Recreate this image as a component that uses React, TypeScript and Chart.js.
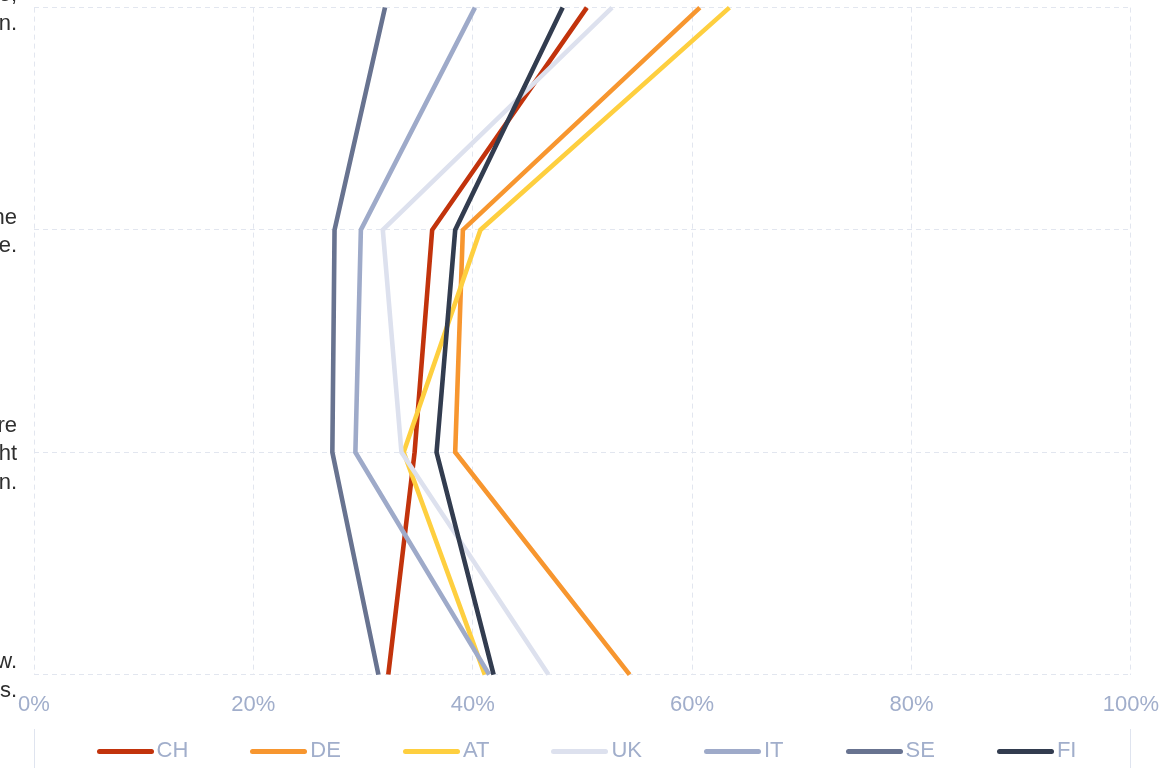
import { useEffect, useRef } from "react";
import { Chart, registerables } from "chart.js";

Chart.register(...registerables);

// Category labels (multi-line statements)
const categories: string[][] = [
  ["If I could afford it, I would invest more money in the future,", "especially in products that support climate protection."],
  ["I feel well informed about the", "consequences of climate change."],
  ["Politicians should do much more", "for climate protection, even if it might", "limit my personal consumption."],
  ["I already do enough for the climate now.", "I don't need to change my habits."],
];

const seriesNames = ["CH", "DE", "AT", "UK", "IT", "SE", "FI"];
const seriesColors = ["#c2330c", "#f7962f", "#fecf3f", "#dde1ee", "#9eaac9", "#687390", "#323c4f"];

const chValues = [50.4, 36.3, 34.7, 32.3];
const deValues = [60.7, 39.1, 38.4, 54.3];
const atValues = [63.4, 40.7, 33.7, 41.1];
const ukValues = [52.7, 31.8, 33.5, 46.9];
const itValues = [40.2, 29.8, 29.3, 41.5];
const seValues = [32.0, 27.4, 27.2, 31.4];
const fiValues = [48.2, 38.4, 36.7, 41.9];
const seriesValues = [chValues, deValues, atValues, ukValues, itValues, seValues, fiValues];

const xMin = 0;
const xMax = 100;
const xStep = 20;

const FONT = "'Liberation Sans', Arial, sans-serif";
const TICK_COLOR = "#a1aecb";
const GRID_COLOR = "#e2e6ef";
const LABEL_COLOR = "#2f2f2f";

const AREA_LEFT = 34;
const AREA_TOP = 8;
const AREA_W = 1097;
const AREA_H = 667;
const Y_AXIS_W = 260;

function buildChart(canvas: HTMLCanvasElement, w: number, h: number) {
  canvas.width = w;
  canvas.height = h;
  canvas.style.width = w + "px";
  canvas.style.height = h + "px";
  return new Chart(canvas, {
    type: "line",
    data: {
      labels: categories,
      datasets: seriesNames.map((name, i) => ({
        label: name,
        data: seriesValues[i],
        borderColor: seriesColors[i],
        backgroundColor: seriesColors[i],
        borderWidth: 4.6,
        pointRadius: 0,
        pointHoverRadius: 0,
        tension: 0,
        fill: false,
        order: -i,
      })),
    },
    options: {
      indexAxis: "y",
      responsive: false,
      maintainAspectRatio: false,
      animation: false,
      devicePixelRatio: 1,
      layout: { padding: { top: 40, right: 40, left: 0, bottom: 0 } },
      plugins: {
        legend: { display: false },
        tooltip: { enabled: false },
      },
      scales: {
        x: {
          type: "linear",
          min: xMin,
          max: xMax,
          ticks: {
            stepSize: xStep,
            callback: (v: any) => v + "%",
            color: TICK_COLOR,
            font: { family: FONT, size: 22 },
            padding: 17,
          },
          grid: { color: GRID_COLOR, drawTicks: false, lineWidth: 1 },
          border: { display: false, dash: [5, 4] },
        },
        y: {
          type: "category",
          ticks: {
            color: LABEL_COLOR,
            font: { family: FONT, size: 22, lineHeight: 1.3 },
            padding: 17,
            labelOffset: 2,
            autoSkip: false,
          },
          grid: { color: GRID_COLOR, drawTicks: false, lineWidth: 1 },
          border: { display: false, dash: [5, 4] },
          afterFit: (s: any) => {
            s.width = Y_AXIS_W;
          },
        },
      },
    } as any,
  });
}

export default function App() {
  const ref = useRef<HTMLCanvasElement>(null);
  useEffect(() => {
    const canvas = ref.current!;
    let w = Y_AXIS_W + AREA_W + 40;
    let h = 800;
    let chart = buildChart(canvas, w, h);
    const ca = chart.chartArea;
    w = Math.round(w + (AREA_W - (ca.right - ca.left)));
    h = Math.round(h + (AREA_H - (ca.bottom - ca.top)));
    chart.destroy();
    chart = buildChart(canvas, w, h);
    const ca2 = chart.chartArea;
    canvas.style.left = AREA_LEFT - ca2.left + "px";
    canvas.style.top = AREA_TOP - ca2.top + "px";
    return () => chart.destroy();
  }, []);

  return (
    <div
      style={{
        position: "fixed",
        left: 0,
        top: 0,
        width: 1165,
        height: 768,
        overflow: "hidden",
        background: "#fff",
      }}
    >
      <canvas ref={ref} style={{ position: "absolute", left: 0, top: 0 }} />
      <div
        style={{
          position: "absolute",
          left: AREA_LEFT,
          top: 729,
          width: AREA_W,
          height: 60,
          borderLeft: "1px solid #dfe4ef",
          borderRight: "1px solid #dfe4ef",
          boxSizing: "border-box",
          display: "flex",
          justifyContent: "center",
          alignItems: "flex-start",
          paddingLeft: 8,
          paddingTop: 8,
          fontFamily: FONT,
          fontSize: 22,
          color: TICK_COLOR,
        }}
      >
        {seriesNames.map((name, i) => (
          <div
            key={name}
            style={{
              display: "flex",
              alignItems: "center",
              marginLeft: i === 0 ? 0 : 62,
              height: 26,
            }}
          >
            <span
              style={{
                display: "inline-block",
                width: 57,
                height: 5,
                borderRadius: 3,
                background: seriesColors[i],
                marginTop: 3,
              }}
            />
            <span style={{ marginLeft: 3, lineHeight: "26px" }}>{name}</span>
          </div>
        ))}
      </div>
    </div>
  );
}
